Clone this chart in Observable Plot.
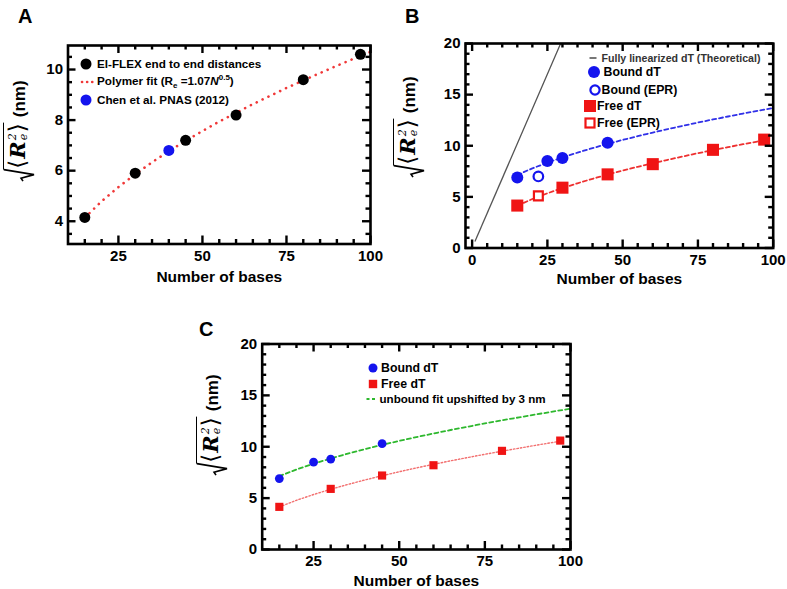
<!DOCTYPE html>
<html>
<head>
<meta charset="utf-8">
<script src="https://cdn.jsdelivr.net/npm/d3@7"></script>
<script src="https://cdn.jsdelivr.net/npm/@observablehq/plot@0.6"></script>
<style>
  html, body { margin: 0; padding: 0; background: #fff; }
  #root { position: relative; width: 787px; height: 589px; overflow: hidden; font-family: 'Liberation Sans', Arial, Helvetica, sans-serif; }
  .pnl { position: absolute; }
  .pnl svg { display: block; max-width: none; }
  .letter { position: absolute; font: bold 20px 'Liberation Sans', Arial, sans-serif; line-height: 1; }
  .ywrap { position: absolute; width: 0; height: 0; }
  .ylab { position: absolute; left: 0; top: 0; transform: translate(-50%, -50%) rotate(-90deg);
          white-space: nowrap; font: bold 17px 'Liberation Sans', Arial, sans-serif; display: flex; align-items: flex-start; }
  .radsvg { display: block; overflow: visible; }
  .ov { border-top: 1.6px solid #000; height: 28px; box-sizing: border-box; padding: 0 1px 0 1px; display: inline-flex; align-items: center; }
  .ang { font: 23px 'DejaVu Sans', sans-serif; line-height: 1; }
  .R { font: italic bold 21px 'DejaVu Serif', serif; line-height: 1; margin-left: 1px; }
  .ss { display: inline-flex; flex-direction: column; font: italic 11px 'DejaVu Serif', serif; line-height: 11px; margin: 0 1px 0 1px; }
  .nm { margin-left: 5px; align-self: center; position: relative; top: 1px; }
  .leg { position: absolute; white-space: nowrap; font-weight: bold; transform: translateY(-50%); line-height: 1; }
  .sw { position: absolute; overflow: visible; }
</style>
</head>
<body>
<div id="root"></div>
<script>
// ---------------- data ----------------
const xLabel = "Number of bases";
// Panel A
const elflexN = [15, 30, 45, 60, 80, 97];
const elflexR = [4.15, 5.9, 7.2, 8.2, 9.6, 10.6];
const chenN = [40];
const chenR = [6.8];
// polymer fit (Re = 1.07 N^0.5)
const fitN = [15, 20, 25, 30, 35, 40, 45, 50, 55, 60, 65, 70, 75, 80, 85, 90, 97, 100];
const fitR = [4.14, 4.79, 5.35, 5.86, 6.33, 6.77, 7.18, 7.57, 7.94, 8.29, 8.63, 8.95, 9.27, 9.57, 9.86, 10.15, 10.54, 10.70];
// bound fit (unbound fit upshifted by 3 nm)
const boundFitR = [7.14, 7.79, 8.35, 8.86, 9.33, 9.77, 10.18, 10.57, 10.94, 11.29, 11.63, 11.95, 12.27, 12.57, 12.86, 13.15, 13.54, 13.70];
// Panels B, C
const boundN = [15, 25, 30, 45];
const boundR = [6.9, 8.5, 8.8, 10.3];
const freeN = [15, 30, 45, 60, 80, 97];
const freeR = [4.15, 5.9, 7.2, 8.2, 9.6, 10.6];
const boundEprN = [22];
const boundEprR = [7.0];
const freeEprN = [22];
const freeEprR = [5.1];
const linearN = [1, 29.4];
const linearR = [0.68, 20];

// ticks
const xTicksA = [25, 50, 75, 100];
const xMinorA = [15, 20, 30, 35, 40, 45, 55, 60, 65, 70, 80, 85, 90, 95];
const yTicksA = [4, 6, 8, 10];
const yMinorA = [3.5, 4.5, 5, 5.5, 6.5, 7, 7.5, 8.5, 9, 9.5, 10.5];
const xTicksB = [0, 25, 50, 75, 100];
const xMinorB = [5, 10, 15, 20, 30, 35, 40, 45, 55, 60, 65, 70, 80, 85, 90, 95];
const yTicksB = [0, 5, 10, 15, 20];
const yMinorB = [1, 2, 3, 4, 6, 7, 8, 9, 11, 12, 13, 14, 16, 17, 18, 19];
const xTicksC = [25, 50, 75, 100];
const xMinorC = xMinorA;

const zip = (xs, ys) => xs.map((x, i) => ({N: x, R: ys[i]}));
const fitData = zip(fitN, fitR);
const boundFitData = zip(fitN, boundFitR);

const BLUE = "#1414ee", RED = "#f01414", FONT = "'Liberation Sans', Arial, Helvetica, sans-serif";
const root = document.getElementById("root");

function panel({left, top, width, height, ml, mr, mt, mb, xDomain, yDomain,
                xTicks, xMinor, yTicks, yMinor, pad, labelDy, marks}) {
  const fw = width - ml - mr, fh = height - mt - mb;
  const MAJ = 8, MIN = 4.5, TW = 2.4;
  const [x0, x1] = xDomain, [y0, y1] = yDomain;
  const ux = (x1 - x0) / fw, uy = (y1 - y0) / fh; // data units per pixel
  const st = {stroke: "#000", strokeWidth: TW};
  const tickMarks = [
    Plot.ruleX(xTicks, {x: d => d, y1: y0, y2: y0 + MAJ * uy, ...st}),
    Plot.ruleX(xTicks, {x: d => d, y1: y1 - MAJ * uy, y2: y1, ...st}),
    Plot.ruleX(xMinor, {x: d => d, y1: y0, y2: y0 + MIN * uy, ...st}),
    Plot.ruleX(xMinor, {x: d => d, y1: y1 - MIN * uy, y2: y1, ...st}),
    Plot.ruleY(yTicks, {y: d => d, x1: x0, x2: x0 + MAJ * ux, ...st}),
    Plot.ruleY(yTicks, {y: d => d, x1: x1 - MAJ * ux, x2: x1, ...st}),
    Plot.ruleY(yMinor, {y: d => d, x1: x0, x2: x0 + MIN * ux, ...st}),
    Plot.ruleY(yMinor, {y: d => d, x1: x1 - MIN * ux, x2: x1, ...st})
  ];
  const svg = Plot.plot({
    width, height, marginLeft: ml, marginRight: mr, marginTop: mt, marginBottom: mb,
    x: {domain: xDomain}, y: {domain: yDomain},
    style: {fontFamily: FONT, fontWeight: "bold", fontSize: "15px", color: "#000", background: "transparent", overflow: "visible"},
    marks: [
      ...marks,
      ...tickMarks,
      Plot.axisX(xTicks, {tickSize: 0, tickPadding: pad, label: null}),
      Plot.axisY(yTicks, {tickSize: 0, tickPadding: 5, label: null}),
      Plot.frame({stroke: "#000", strokeWidth: 2.6}),
      Plot.text([xLabel], {frameAnchor: "bottom", text: d => d, dy: labelDy, fontSize: 15.5, fontWeight: "bold"})
    ]
  });
  const div = document.createElement("div");
  div.className = "pnl";
  div.style.left = left + "px";
  div.style.top = top + "px";
  div.appendChild(svg);
  root.appendChild(div);
}

// ---------- Panel A ----------
panel({
  left: 0, top: 0, width: 390, height: 290, ml: 67.5, mr: 20, mt: 45, mb: 46.5,
  xDomain: [10, 100], yDomain: [3.1, 10.95],
  xTicks: xTicksA, xMinor: xMinorA, yTicks: yTicksA, yMinor: yMinorA, pad: 6, labelDy: 38,
  marks: [
    Plot.line(fitData, {x: "N", y: "R", stroke: "#f03838", strokeWidth: 2.6, strokeDasharray: "0.1,6.4", strokeLinecap: "round", clip: true}),
    Plot.dot(zip(elflexN, elflexR), {x: "N", y: "R", r: 5.5, fill: "#000"}),
    Plot.dot(zip(chenN, chenR), {x: "N", y: "R", r: 5.5, fill: BLUE})
  ]
});

// ---------- Panel B ----------
panel({
  left: 390, top: 0, width: 397, height: 290, ml: 75, mr: 14.3, mt: 43, mb: 42.5,
  xDomain: [-2.2, 100], yDomain: [0, 20],
  xTicks: xTicksB, xMinor: xMinorB, yTicks: yTicksB, yMinor: yMinorB, pad: 6, labelDy: 36,
  marks: [
    Plot.line(zip(linearN, linearR), {x: "N", y: "R", stroke: "#555", strokeWidth: 1.3, clip: true}),
    Plot.line(boundFitData, {x: "N", y: "R", stroke: "#3030e8", strokeWidth: 1.8, strokeDasharray: "4,3", clip: true}),
    Plot.line(fitData.filter(d => d.N <= 97), {x: "N", y: "R", stroke: "#ee3030", strokeWidth: 1.8, strokeDasharray: "4,3", clip: true}),
    Plot.dot(zip(boundN, boundR), {x: "N", y: "R", r: 6, fill: BLUE}),
    Plot.dot(zip(boundEprN, boundEprR), {x: "N", y: "R", r: 4.8, fill: "#fff", stroke: BLUE, strokeWidth: 2.2}),
    Plot.dot(zip(freeN, freeR), {x: "N", y: "R", r: 6.8, symbol: "square", fill: RED}),
    Plot.dot(zip(freeEprN, freeEprR), {x: "N", y: "R", r: 5, symbol: "square", fill: "#fff", stroke: RED, strokeWidth: 2.2})
  ]
});

// ---------- Panel C ----------
panel({
  left: 150, top: 290, width: 450, height: 299, ml: 111.7, mr: 30, mt: 53.5, mb: 40,
  xDomain: [10, 100], yDomain: [0, 20],
  xTicks: xTicksC, xMinor: xMinorC, yTicks: yTicksB, yMinor: yMinorB, pad: 5.5, labelDy: 36,
  marks: [
    Plot.line(boundFitData, {x: "N", y: "R", stroke: "#2eb82e", strokeWidth: 1.8, strokeDasharray: "4,3", clip: true}),
    Plot.line(fitData.filter(d => d.N <= 97), {x: "N", y: "R", stroke: "#f27070", strokeWidth: 1.4, strokeDasharray: "1.5,2", clip: true}),
    Plot.dot(zip(boundN, boundR), {x: "N", y: "R", r: 4.4, fill: BLUE}),
    Plot.dot(zip(freeN, freeR), {x: "N", y: "R", r: 4.6, symbol: "square", fill: RED})
  ]
});

// ---------- letters ----------
function letter(t, x, y) {
  const d = document.createElement("div");
  d.className = "letter"; d.textContent = t;
  d.style.left = x + "px"; d.style.top = y + "px";
  root.appendChild(d);
}
letter("A", 18, 6);
letter("B", 405, 6);
letter("C", 199, 319);

// ---------- y labels ----------
function ylab(cx, cy) {
  const w = document.createElement("div");
  w.className = "ywrap"; w.style.left = cx + "px"; w.style.top = cy + "px";
  w.innerHTML = '<div class="ylab">' +
    '<svg class="radsvg" width="12" height="32"><path d="M0.5,20 L3.5,18 L7,31 L12,0.8" fill="none" stroke="#000" stroke-width="1.6" stroke-linejoin="miter"/></svg>' +
    '<span class="ov"><span class="ang">⟨</span><span class="R">R</span><span class="ss"><span>2</span><span>e</span></span><span class="ang">⟩</span></span>' +
    '<span class="nm">(nm)</span></div>';
  root.appendChild(w);
}
ylab(19, 131);
ylab(409, 127);
ylab(212, 425);

// ---------- legends ----------
function swatch(cx, cy, inner) {
  const s = document.createElementNS("http://www.w3.org/2000/svg", "svg");
  s.setAttribute("class", "sw");
  s.setAttribute("width", 20); s.setAttribute("height", 20);
  s.setAttribute("viewBox", "-10 -10 20 20");
  s.style.left = (cx - 10) + "px"; s.style.top = (cy - 10) + "px";
  s.innerHTML = inner;
  root.appendChild(s);
}
function legText(x, y, html, size, color) {
  const d = document.createElement("div");
  d.className = "leg";
  d.style.left = x + "px"; d.style.top = y + "px";
  d.style.fontSize = size + "px"; d.style.color = color || "#000";
  d.innerHTML = html;
  root.appendChild(d);
}
// A
swatch(86, 63.5, '<circle r="5.5" fill="#000"/>');
legText(97, 63.5, "El-FLEX end to end distances", 11.7);
swatch(87, 81.5, '<line x1="-5" x2="6" y1="0" y2="0" stroke="#f03838" stroke-width="2.6" stroke-dasharray="0.1,5" stroke-linecap="round"/>');
legText(97, 81.5, 'Polymer fit (R<sub style="font-size:8px">e</sub> =1.07<i>N</i><sup style="font-size:8px">0.5</sup>)', 11.7);
swatch(86, 100, '<circle r="5.5" fill="' + BLUE + '"/>');
legText(97, 100, "Chen et al. PNAS (2012)", 11.7);
// B
swatch(593, 57.5, '<line x1="-3.5" x2="3.5" y1="0" y2="0" stroke="#555" stroke-width="1.6"/>');
legText(601.5, 57.5, "Fully linearized dT (Theoretical)", 10.6, "#333");
swatch(594, 72, '<circle r="6" fill="' + BLUE + '"/>');
legText(603.5, 72, "Bound dT", 12.3);
swatch(594.5, 90, '<circle r="4.6" fill="#fff" stroke="' + BLUE + '" stroke-width="2.2"/>');
legText(601.5, 90, "Bound (EPR)", 12.3);
swatch(590, 106, '<rect x="-6" y="-6" width="12" height="12" fill="' + RED + '"/>');
legText(597, 106, "Free dT", 12.3);
swatch(590, 122.5, '<rect x="-4.5" y="-4.5" width="9" height="9" fill="#fff" stroke="' + RED + '" stroke-width="2.2"/>');
legText(597, 122.5, "Free (EPR)", 12.3);
// C
swatch(372.5, 367.5, '<circle r="4.5" fill="' + BLUE + '"/>');
legText(381, 367.5, "Bound dT", 12.3);
swatch(372.5, 383.5, '<rect x="-4.2" y="-4.2" width="8.4" height="8.4" fill="' + RED + '"/>');
legText(381, 383.5, "Free dT", 12.3);
swatch(371, 399, '<line x1="-4.5" x2="5" y1="0" y2="0" stroke="#2eb82e" stroke-width="1.8" stroke-dasharray="3,2.5"/>');
legText(379.5, 399, "unbound fit upshifted by 3 nm", 11.6);
</script>
</body>
</html>
